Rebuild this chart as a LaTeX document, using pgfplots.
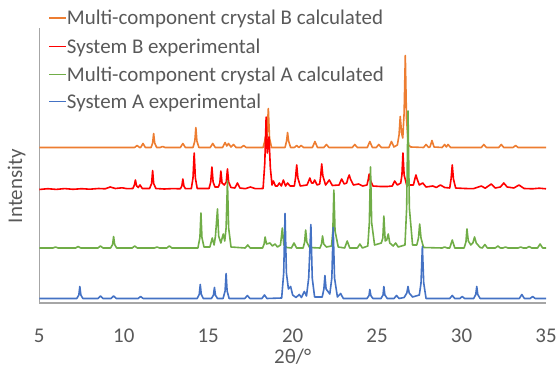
\documentclass[border=0pt]{standalone}
\usepackage{fontspec}
\setmainfont{Carlito}
\usepackage{pgfplots}
\usepackage{pgfplotstable}
\pgfplotsset{compat=1.18}
\definecolor{cOr}{HTML}{ED7D31}
\definecolor{cRe}{HTML}{FF0000}
\definecolor{cGr}{HTML}{70AD47}
\definecolor{cBl}{HTML}{4472C4}
\definecolor{txt}{HTML}{595959}
\definecolor{axc}{HTML}{A6A6A6}
\begin{document}
\pgfplotstableread{
x y
5 4.5
7.22 4.5
7.34 8
7.4 16.5
7.46 8
7.58 4.5
8.47 4.5
8.62 7
8.77 4.5
9.25 4.5
9.4 7
9.55 4.5
10.85 4.5
11.0 6.5
11.15 4.5
14.35 4.5
14.47 8.7
14.53 18.5
14.59 8.7
14.71 4.5
15.19 4.5
15.31 7.8
15.37 15.5
15.43 7.8
15.55 4.5
15.88 4.5
16.0 12
16.06 29.5
16.12 12
16.24 4.5
17.17 4.5
17.32 7.5
17.47 4.5
18.18 4.5
18.33 8
18.48 4.5
19.35 5
19.47 30
19.55 89.5
19.63 30
19.75 14
19.88 16.5
20.0 8
20.2 5.5
20.39 8.5
20.52 5.5
20.69 11.5
20.82 7
20.95 25
21.08 78.5
21.16 25
21.3 6
21.75 6
21.85 14
21.91 27.5
21.98 14
22.2 9
22.32 25
22.4 75.5
22.48 25
22.65 6
22.84 9.5
23.0 4.5
24.4 4.5
24.52 7.5
24.57 13.5
24.63 7.5
24.75 4.5
25.23 4.5
25.35 8
25.4 16.5
25.46 8
25.6 4.5
26.0 4.5
26.15 7.5
26.3 4.5
26.6 5.5
26.76 10
26.83 16.5
26.9 10
27.1 6
27.5 8
27.6 20
27.68 56.5
27.76 20
27.9 4.5
29.3 4.5
29.45 7.5
29.6 4.5
29.9 4.5
30.04 6.5
30.18 4.5
30.72 4.5
30.84 8.5
30.9 16.5
30.96 8.5
31.1 4.5
33.42 4.5
33.57 8.5
33.72 4.5
34.06 4.5
34.21 6.5
34.36 4.5
35 4.5
}\tblBlue
\pgfplotstableread{
x y
5 55
5.81 55
5.96 56
6.11 55
7.15 55
7.3 56.5
7.45 55
8.47 55
8.62 57
8.77 55
9.22 55
9.34 58.5
9.4 66.5
9.46 58.5
9.58 55
10.5 55
10.65 57
10.8 55
11.82 55
11.97 56
12.12 55
12.55 55
12.7 57
12.85 55
14.39 55
14.51 65.5
14.57 90
14.63 65.5
14.75 56
15.1 56
15.24 65
15.35 58
15.43 67
15.55 94
15.62 67
15.75 60
15.89 69
15.98 62
16.06 75
16.14 122
16.21 75
16.35 56
17.19 55
17.34 58
17.49 55
18.22 55
18.31 59
18.37 66
18.45 59
18.66 60
18.8 57
18.96 59
19.1 56
19.28 58
19.39 75
19.48 58
19.65 55.5
19.93 55
20.08 60
20.23 55
20.62 55
20.71 61
20.77 73
20.84 61
21.0 55.5
21.62 55
21.71 59
21.77 67
21.84 59
22.0 56
22.3 57
22.38 72
22.44 113
22.51 72
22.7 56
23.08 55
23.23 62
23.38 55
23.83 55
23.98 59
24.13 55
24.45 57
24.54 80
24.61 136
24.68 80
24.85 58
25.25 60
25.34 65
25.4 87
25.48 62
25.57 63
25.66 69
25.75 60
25.95 57
26.1 60
26.25 56
26.65 58
26.75 95
26.83 192
26.91 95
27.1 58
27.35 58
27.45 65
27.52 79
27.6 65
27.75 55.5
28.85 55
29.0 56
29.15 55
29.3 55
29.45 63
29.6 55
30.15 55
30.26 61
30.32 74
30.4 62
30.55 58
30.67 60
30.77 66
30.87 60
31.1 55.5
31.23 55
31.38 58.5
31.53 55
32.0 55
32.15 57
32.3 55
32.45 55
32.6 56
32.75 55
33.35 55
33.5 56
33.65 55
33.85 55
34.0 56.5
34.15 55
34.5 55
34.65 59
34.8 55
35 55
}\tblGreen
\pgfplotstableread{
x y
5 113.5
5.5 114.3
6 113.6
6.5 114.4
7 113.7
7.5 114.3
8 113.8
8.5 114.5
8.9 114.2
9.2 116
9.5 114.5
9.9 115.2
10.2 114.3
10.54 114.5
10.63 118
10.69 123
10.76 117
10.86 115.5
10.96 118
11.1 114.5
11.53 114.5
11.65 119.5
11.71 132.5
11.77 119.5
11.9 114.5
12.4 114
12.9 114.4
13.35 114.2
13.44 117
13.5 124
13.56 117
13.65 114.3
14.0 114.3
14.1 125
14.17 150
14.24 125
14.35 114.5
15.05 114.5
15.15 121
15.22 136
15.29 121
15.4 116
15.6 116
15.69 120
15.75 132
15.82 120
15.95 118
16.07 121
16.14 134
16.21 121
16.35 115.5
16.58 115
16.73 120
16.88 115
17.2 114.3
17.5 116
17.8 114.3
18.25 114.5
18.35 140
18.43 186
18.5 150
18.6 166
18.68 135
18.78 118
18.86 122
18.98 117
19.1 117
19.21 120
19.33 117
19.45 123
19.58 117
19.7 120
19.85 117
20.1 117
20.17 125
20.24 138
20.31 125
20.45 117
20.85 118
20.95 122
21.02 125
21.12 120
21.22 120
21.3 123
21.45 118
21.6 119
21.66 127
21.72 139
21.79 127
21.95 118
22.17 123
22.35 117.5
22.75 118
22.9 124
23.05 119
23.2 120
23.28 125
23.35 128
23.42 124
23.6 118
23.9 119
24.15 117
24.4 118
24.47 123
24.53 129
24.6 123
24.75 117
25.2 116.5
25.6 116.5
25.9 117
26.04 122
26.2 118
26.4 120
26.47 128
26.53 150
26.6 128
26.75 118
27.15 118
27.25 125
27.3 128
27.37 124
27.5 118
27.7 120
27.9 116
28.3 117
28.5 115.5
28.75 118
29.0 115.5
29.3 115
29.38 124
29.45 138
29.52 124
29.65 115
30.2 114.5
30.7 114.3
31.17 117
31.4 114.8
31.76 119
32.0 115
32.3 116
32.5 120
32.7 116
33.1 115
33.4 118
33.7 114.5
34.2 114.2
34.6 114.8
35 114.2
}\tblRed
\pgfplotstableread{
x y
5 155.5
10.64 155.5
10.79 157.5
10.94 155.5
11.0 155.5
11.14 159.5
11.28 155.5
11.62 155.5
11.71 160
11.77 169.5
11.83 160
11.95 155.5
12.15 155.5
12.3 156.5
12.45 155.5
13.35 155.5
13.5 159.5
13.65 155.5
14.1 155.5
14.21 162
14.27 175.5
14.33 162
14.45 155.5
15.12 155.5
15.27 159.5
15.42 155.5
15.85 155.5
16.0 160.5
16.1 157
16.2 159.5
16.35 156
16.5 158.5
16.65 155.5
16.95 155.5
17.1 157.5
17.25 155.5
18.25 155.5
18.35 162
18.4 167
18.47 163
18.56 194.5
18.63 165
18.75 155.5
19.55 155.5
19.64 162
19.7 170.5
19.76 162
19.88 155.5
20.1 155.5
20.24 157.5
20.37 155.5
20.5 157.5
20.65 155.5
21.17 155.5
21.32 161.5
21.47 155.5
21.85 155.5
22.0 158.5
22.15 155.5
23.53 155.5
23.68 158.5
23.83 155.5
24.42 155.5
24.57 161.5
24.72 155.5
24.95 155.5
25.1 158.5
25.25 155.5
25.7 155.5
25.85 161.5
26.0 156
26.2 158
26.3 168
26.37 186.5
26.45 170
26.52 165
26.6 190
26.67 247.5
26.74 185
26.85 158
27.0 156
27.75 155.5
27.9 158.5
28.05 155.5
28.13 156
28.25 162.5
28.37 156
28.85 155.5
29.0 158.5
29.1 156
29.2 158.5
29.35 155.5
31.17 155.5
31.32 158.5
31.47 155.5
32.2 155.5
32.35 158.5
32.5 155.5
33.05 155.5
33.2 157.5
33.35 155.5
35 155.5
}\tblOrange
\begin{tikzpicture}
\begin{axis}[
  scale only axis, width=506.7bp, height=275bp,
  xmin=5, xmax=35, ymin=0, ymax=275,
  xtick={5,10,...,35}, ytick=\empty,
  axis x line*=bottom, axis y line*=left,
  axis line style={draw=axc, line width=1.3bp, -},
  major tick length=0pt,
  /pgf/number format/assume math mode=true,
  tick label style={font=\fontsize{21}{25}\selectfont, text=txt},
  xticklabel style={anchor=base, yshift=-39bp},
  xlabel={2θ/°}, ylabel={Intensity},
  label style={font=\fontsize{21}{25}\selectfont, text=txt, inner sep=0pt},
  xlabel style={at={(axis description cs:0.5,0)}, anchor=base, yshift=-60.5bp},
  ylabel style={at={(axis description cs:0,0.4247)}, anchor=center, yshift=22.6bp},
  every axis plot/.append style={line width=1.6bp, line join=round},
  clip=false,
]
\coordinate (O) at (rel axis cs:0,0);
\addplot[cOr] table[x=x,y=y]{\tblOrange};
\addplot[cRe] table[x=x,y=y]{\tblRed};
\addplot[cGr] table[x=x,y=y]{\tblGreen};
\addplot[cBl] table[x=x,y=y]{\tblBlue};
\end{axis}
\begin{scope}[shift={(O)}, every node/.style={anchor=base west, inner sep=0pt, text=txt, font=\fontsize{21}{25}\selectfont}]
\draw[cOr, line width=1.4bp] (10bp,285bp) -- (26.4bp,285bp);
\node at (27.4bp,278.3bp) {Multi-component crystal B calculated};
\draw[cRe, line width=1.4bp] (10bp,256.6bp) -- (26.4bp,256.6bp);
\node at (27.4bp,249.9bp) {System B experimental};
\draw[cGr, line width=1.4bp] (10bp,228.3bp) -- (26.4bp,228.3bp);
\node at (27.4bp,221.6bp) {Multi-component crystal A calculated};
\draw[cBl, line width=1.4bp] (10bp,201.6bp) -- (26.4bp,201.6bp);
\node at (27.4bp,194.9bp) {System A experimental};
\end{scope}
\pgfresetboundingbox
\path (O) ++(-39.3bp,-66bp) rectangle ++(558bp,369bp);
\end{tikzpicture}
\end{document}
